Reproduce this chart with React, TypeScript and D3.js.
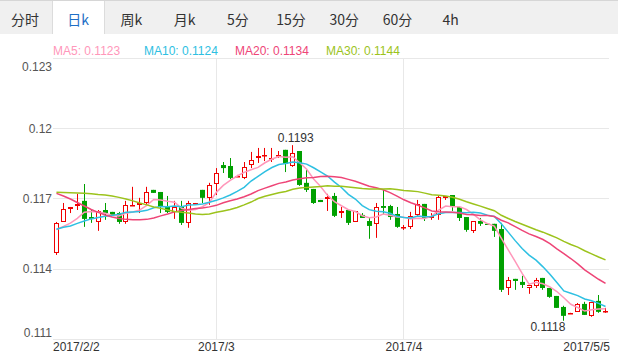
import { useMemo } from 'react';
import { scaleBand, scaleLinear, line, maxIndex, minIndex } from 'd3';

// period tabs shown above the chart
const tabs = ['分时', '日k', '周k', '月k', '5分', '15分', '30分', '60分', '4h'];
const activeTab = '日k';

// daily candles 2017/2/2 .. 2017/5/5
const opens = [
  0.1147, 0.11602, 0.11658, 0.1167, 0.11692, 0.11623, 0.11602, 0.11653, 0.11645, 0.1164,
  0.11602, 0.1167, 0.11675, 0.11683, 0.11739, 0.1173, 0.11666, 0.11645, 0.11666, 0.11598,
  0.11679, 0.11739, 0.11705, 0.11764, 0.11845, 0.11841, 0.11798, 0.1179, 0.11845, 0.11875,
  0.11884, 0.11873, 0.11886, 0.1191, 0.11841, 0.11905, 0.11769, 0.11743, 0.11696, 0.117,
  0.11713, 0.1164, 0.11653, 0.11602, 0.11632, 0.11606, 0.11594, 0.1167, 0.1167, 0.11636,
  0.11575, 0.11581, 0.11632, 0.11679, 0.11619, 0.11632, 0.11705, 0.11717, 0.11666, 0.11623,
  0.11564, 0.11606, 0.11594, 0.11594, 0.11572, 0.1132, 0.11359, 0.11346, 0.1132, 0.11329,
  0.11363, 0.1132, 0.11286, 0.11239, 0.11209, 0.11218, 0.11252, 0.11201, 0.11265, 0.11216,
];
const highs = [
  0.11602, 0.11683, 0.11666, 0.11722, 0.11764, 0.11653, 0.11653, 0.11683, 0.11645, 0.11645,
  0.11692, 0.11752, 0.11705, 0.11752, 0.11739, 0.1173, 0.11713, 0.11692, 0.11692, 0.11692,
  0.11683, 0.11739, 0.11769, 0.11832, 0.11858, 0.11875, 0.11803, 0.11858, 0.11901, 0.11918,
  0.11918, 0.11918, 0.11905, 0.1191, 0.1193, 0.11905, 0.11824, 0.11743, 0.11696, 0.11722,
  0.11726, 0.11666, 0.11653, 0.11649, 0.1164, 0.11623, 0.11683, 0.11739, 0.11675, 0.11666,
  0.11589, 0.11645, 0.11696, 0.11679, 0.1164, 0.11717, 0.11713, 0.11717, 0.11666, 0.11623,
  0.11606, 0.11619, 0.11594, 0.11594, 0.11598, 0.11367, 0.11359, 0.11372, 0.11333, 0.11363,
  0.11363, 0.1132, 0.11286, 0.11244, 0.11214, 0.11256, 0.11261, 0.11261, 0.1129, 0.11235,
];
const lows = [
  0.11461, 0.11602, 0.1164, 0.11653, 0.11581, 0.11598, 0.11564, 0.11611, 0.11628, 0.11594,
  0.11594, 0.1167, 0.1164, 0.11675, 0.11726, 0.1164, 0.1164, 0.11615, 0.11589, 0.11577,
  0.11679, 0.11683, 0.11675, 0.11717, 0.11811, 0.11785, 0.11794, 0.11785, 0.11832, 0.11854,
  0.11862, 0.11858, 0.11875, 0.11815, 0.11837, 0.11756, 0.1173, 0.11679, 0.11687, 0.11649,
  0.11623, 0.11619, 0.11589, 0.11602, 0.11619, 0.1153, 0.11534, 0.11632, 0.11611, 0.11577,
  0.11568, 0.11572, 0.11628, 0.11606, 0.11611, 0.11611, 0.11696, 0.11649, 0.11606, 0.1156,
  0.11555, 0.11585, 0.11589, 0.11538, 0.11303, 0.1129, 0.11312, 0.1132, 0.11295, 0.1132,
  0.11312, 0.11278, 0.11235, 0.1118, 0.11209, 0.11218, 0.11205, 0.11197, 0.11214, 0.11214,
];
const closes = [
  0.11598, 0.11658, 0.11666, 0.11679, 0.11615, 0.11615, 0.11649, 0.1164, 0.11632, 0.11602,
  0.11675, 0.11675, 0.11683, 0.1173, 0.11726, 0.11666, 0.11645, 0.11666, 0.11598, 0.11683,
  0.11683, 0.11705, 0.1176, 0.11811, 0.11832, 0.1179, 0.11798, 0.11837, 0.11867, 0.11884,
  0.11888, 0.11877, 0.1189, 0.1185, 0.11897, 0.1176, 0.11739, 0.11683, 0.11687, 0.11709,
  0.11628, 0.11649, 0.11598, 0.11649, 0.11619, 0.11585, 0.11666, 0.11662, 0.11623, 0.11581,
  0.11579, 0.11628, 0.11679, 0.11619, 0.11628, 0.11709, 0.11713, 0.11666, 0.11619, 0.11568,
  0.11606, 0.11594, 0.11589, 0.11564, 0.11312, 0.11354, 0.1135, 0.11333, 0.11333, 0.11354,
  0.1132, 0.11282, 0.11235, 0.11201, 0.11214, 0.11252, 0.11205, 0.11261, 0.11218, 0.1122,
];

// moving-average values before a full window exists (history not shown)
const ma5Head = [0.1157, 0.11583, 0.11597, 0.11617];
const ma10Head = [0.11571, 0.11579, 0.11585, 0.11596, 0.11606, 0.11615, 0.11621, 0.11626, 0.1163];
const ma20Head = [
  0.11724, 0.11713, 0.117, 0.11685, 0.1167, 0.11655, 0.11643, 0.11632, 0.11623, 0.11617,
  0.11613, 0.11611, 0.11611, 0.11613, 0.11619, 0.11628, 0.11636, 0.11645, 0.11651,
];
const ma30Head = [
  0.11729, 0.11728, 0.11727, 0.11726, 0.11725, 0.11722, 0.11719, 0.11717, 0.11713, 0.11707,
  0.117, 0.11692, 0.11683, 0.11675, 0.11666, 0.1166, 0.11653, 0.11647, 0.11643, 0.1164,
  0.11636, 0.11634, 0.11636, 0.11643, 0.11649, 0.11655, 0.11664, 0.11675, 0.11687,
];

const yTicks = [0.111, 0.114, 0.117, 0.12, 0.123];
const xTicks = [
  { index: 0, label: '2017/2/2' },
  { index: 23, label: '2017/3' },
  { index: 50, label: '2017/4' },
  { index: 79, label: '2017/5/5' },
];

const movingAverage = (n: number, head: number[]) =>
  closes.map((_, i) => {
    if (i < n - 1) return head[i];
    let s = 0;
    for (let k = i - n + 1; k <= i; k++) s += closes[k];
    return s / n;
  });

const W = 618;
const H = 353;
const left = 53;
const right = 609;
const top = 58.5;
const bottom = 339.5;
const font = '"Liberation Sans", Arial, sans-serif';
const UP = '#f00000';
const DOWN = '#00a000';

const App = () => {
  const idx = opens.map((_, i) => i);

  const x = useMemo(
    () => scaleBand<number>().domain(idx).range([left, right]).paddingInner(0.28).paddingOuter(0.14),
    [],
  );
  const y = useMemo(() => scaleLinear().domain([0.111, 0.123]).range([bottom, top]), []);
  const cx = (i: number) => (x(i) as number) + x.bandwidth() / 2;

  const series = [
    { name: 'MA5', color: '#ff97ba', values: movingAverage(5, ma5Head) },
    { name: 'MA10', color: '#2ec0e2', values: movingAverage(10, ma10Head) },
    { name: 'MA20', color: '#ee4577', values: movingAverage(20, ma20Head) },
    { name: 'MA30', color: '#9cc31c', values: movingAverage(30, ma30Head) },
  ];

  const path = line<number>()
    .x((_, i) => cx(i))
    .y((d) => y(d));

  const hi = maxIndex(highs);
  const lo = minIndex(lows);
  const snap = (v: number) => Math.round(v - 0.5) + 0.5;

  return (
    <svg
      width={W}
      height={H}
      style={{ position: 'absolute', left: 0, top: 0, background: '#fff' }}
      fontFamily={font}
    >
      {/* tab bar */}
      <rect x={0} y={0} width={W} height={34} fill="#f0f0f0" />
      <line x1={0} x2={W} y1={0.5} y2={0.5} stroke="#d6d6d6" />
      {tabs.map((t, i) => {
        const tx = 25 + i * 53.2;
        const active = t === activeTab;
        return (
          <g key={t}>
            {active && (
              <>
                <rect x={52} y={1} width={52} height={34} fill="#fff" />
                <line x1={52.5} x2={52.5} y1={1} y2={34} stroke="#dcdcdc" />
                <line x1={104.5} x2={104.5} y1={1} y2={34} stroke="#dcdcdc" />
              </>
            )}
            <text
              x={tx}
              y={19}
              textAnchor="middle"
              dominantBaseline="central"
              fontSize={14}
              fontFamily={'"Noto Sans CJK SC", "Noto Sans", sans-serif'}
              fill={active ? '#1f6fc6' : '#333'}
            >
              {t}
            </text>
          </g>
        );
      })}

      {/* legend */}
      {series.map((s, i) => (
        <text key={s.name} x={53 + i * 91} y={54.5} fontSize={12} fill={s.color}>
          {`${s.name}: ${s.values[s.values.length - 1].toFixed(4)}`}
        </text>
      ))}

      {/* grid */}
      {yTicks.map((t) => (
        <line key={t} x1={left} x2={right} y1={snap(y(t))} y2={snap(y(t))} stroke="#e8e8e8" />
      ))}
      {xTicks
        .filter((t) => t.index > 0 && t.index < idx.length - 1)
        .map((t) => (
          <line
            key={t.label}
            x1={snap(cx(t.index))}
            x2={snap(cx(t.index))}
            y1={top}
            y2={bottom}
            stroke="#e8e8e8"
          />
        ))}

      {/* y axis labels */}
      {yTicks.map((t) => (
        <text
          key={t}
          x={52}
          y={Math.min(Math.max(y(t) + 4, 71), 337)}
          textAnchor="end"
          fontSize={12}
          fill="#555"
        >
          {String(t)}
        </text>
      ))}

      {/* x axis labels */}
      {xTicks.map((t, i) => (
        <text
          key={t.label}
          x={i === 0 ? left : i === xTicks.length - 1 ? right + 1 : cx(t.index)}
          y={351}
          textAnchor={i === 0 ? 'start' : i === xTicks.length - 1 ? 'end' : 'middle'}
          fontSize={12}
          fill="#333"
        >
          {t.label}
        </text>
      ))}

      {/* candles */}
      {idx.map((i) => {
        const up = closes[i] >= opens[i];
        const c = up ? UP : DOWN;
        const xc = snap(cx(i));
        const bw = x.bandwidth();
        const yTop = y(Math.max(opens[i], closes[i]));
        const yBot = y(Math.min(opens[i], closes[i]));
        const h = Math.max(1, yBot - yTop);
        return (
          <g key={i}>
            <line x1={xc} x2={xc} y1={y(highs[i])} y2={y(lows[i])} stroke={c} />
            {up ? (
              <rect
                x={xc - bw / 2 + 0.5}
                y={Math.round(yTop) + 0.5}
                width={bw - 1}
                height={Math.max(0.5, Math.round(h) - 1)}
                fill="#fff"
                stroke={c}
              />
            ) : (
              <rect x={xc - bw / 2} y={yTop} width={bw} height={h} fill={c} />
            )}
          </g>
        );
      })}

      {/* moving averages */}
      {series.map((s) => (
        <path key={s.name} d={path(s.values) || ''} fill="none" stroke={s.color} strokeWidth={1.5} />
      ))}

      {/* extreme labels */}
      <text x={cx(hi) + 3} y={y(highs[hi]) - 3.5} textAnchor="middle" fontSize={12} fill="#333">
        {highs[hi].toFixed(4)}
      </text>
      <text x={cx(lo) + 1.5} y={y(lows[lo]) + 10} textAnchor="end" fontSize={12} fill="#333">
        {lows[lo].toFixed(4)}
      </text>
    </svg>
  );
};

export default App;
